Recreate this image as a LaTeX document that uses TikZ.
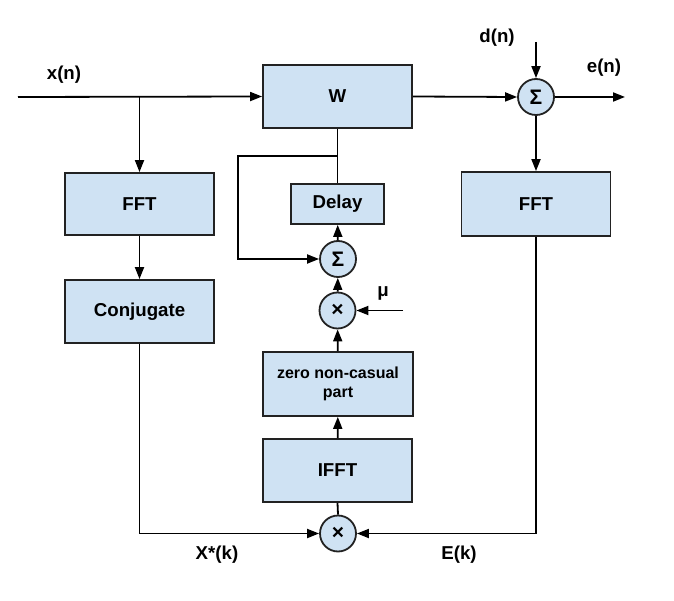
\documentclass[tikz,border=0pt]{standalone}
\usepackage{fontspec}
\setmainfont{Liberation Sans}
\usetikzlibrary{arrows.meta}
\definecolor{boxfill}{HTML}{CFE2F3}
\definecolor{edge}{HTML}{222222}
\tikzset{
  blk/.style={draw=edge, line width=1.8pt, fill=boxfill, inner sep=0pt, font=\bfseries\fontsize{18.67}{22}\selectfont, align=center},
  opnode/.style={circle, draw=edge, line width=1.8pt, fill=boxfill, inner sep=0pt, minimum size=36pt, font=\bfseries\fontsize{21}{24}\selectfont},
  lbl/.style={font=\bfseries\fontsize{18.67}{22}\selectfont, inner sep=0pt},
  conn/.style={line width=1.8pt, draw=black},
  arr/.style={conn, -{Triangle[length=12pt,width=9pt]}}
}
\begin{document}
\begin{tikzpicture}[x=1pt, y=-1pt]
\useasboundingbox (0,0) rectangle (674,601);
% blocks
\node[blk, minimum width=149pt, minimum height=63pt] (W) at (337.5,96.5) {W};
\node[blk, minimum width=149pt, minimum height=62pt] (fftL) at (139.5,204) {FFT};
\node[blk, minimum width=149pt, minimum height=63pt] (conj) at (139.5,311.5) {Conjugate};
\node[blk, minimum width=93pt, minimum height=40pt] (delay) at (337.5,204) {Delay};
\node[blk, minimum width=149pt, minimum height=64pt] (fftR) at (536,204) {FFT};
\node[blk, minimum width=150pt, minimum height=64pt, font=\bfseries\fontsize{16}{19}\selectfont] (zero) at (338,384) {zero non-casual\\part};
\node[blk, minimum width=149pt, minimum height=63pt] (ifft) at (337.5,470.5) {IFFT};
% operators
\node[opnode] (s1) at (536,97) {Σ};
\node[opnode] (s2) at (338,259) {Σ};
\node[opnode] (m1) at (337.5,310.5) {×};
\node[opnode] (m2) at (338,533.5) {×};
% free ends
\coordinate (xin) at (18,97);
\coordinate (br) at (139.5,97);
\coordinate (din) at (536,42);
\coordinate (eout) at (625,97);
\coordinate (muin) at (403,310.5);
\coordinate (fb) at (337.5,156);
\coordinate (fbl) at (238,156);
% labels
\node[lbl] (lx) at (64,75) {x(n)};
\node[lbl] (ld) at (497,38) {d(n)};
\node[lbl] (le) at (604,68) {e(n)};
\node[lbl] (lmu) at (383,293) {μ};
\node[lbl] (lX) at (217,555) {X*(k)};
\node[lbl] (lE) at (459,555) {E(k)};
% connectors
\draw[arr] (xin) -- (W.west);
\draw[arr] (br) -- (fftL.north);
\draw[arr] (fftL) -- (conj);
\draw[arr] (conj.south) |- (m2.west);
\draw[arr] (W.east) -- (s1.west);
\draw[arr] (din) -- (s1.north);
\draw[arr] (s1.east) -- (eout);
\draw[arr] (s1.south) -- (fftR.north);
\draw[arr] (fftR.south) |- (m2.east);
\draw[conn] (m2.north) -- (ifft.south);
\draw[arr] (ifft) -- (zero);
\draw[arr] (zero) -- (m1);
\draw[arr] (muin) -- (m1.east);
\draw[arr] (m1) -- (s2);
\draw[arr] (s2) -- (delay);
\draw[conn] (delay.north) -- (W.south);
\draw[arr] (fb) -- (fbl) |- (s2.west);
\end{tikzpicture}
\end{document}
